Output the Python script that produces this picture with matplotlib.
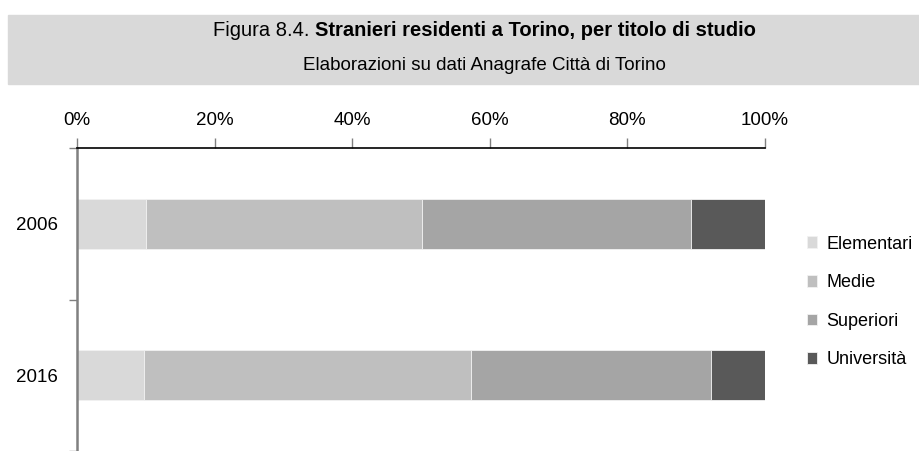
import numpy as np
import matplotlib
matplotlib.use("Agg")
import matplotlib.pyplot as plt
from matplotlib.patches import Rectangle

# Data (percentages)
years = ["2006", "2016"]
levels = ["Elementari", "Medie", "Superiori", "Università"]
elementari = [10.0, 9.7]
medie = [40.2, 47.5]
superiori = [39.1, 34.9]
universita = [10.7, 7.9]
colors = ["#d9d9d9", "#bfbfbf", "#a5a5a5", "#595959"]

plt.rcParams["font.family"] = ["Liberation Sans", "DejaVu Sans"]

W, H = 919, 451
fig = plt.figure(figsize=(W / 100, H / 100), dpi=100)

# Title band
fig.patches.append(Rectangle((8 / W, 1 - 84 / H), 1 - 8 / W, 69 / H,
                             transform=fig.transFigure, color="#d9d9d9", zorder=0))

# Title: regular prefix + bold remainder, centred together
renderer = fig.canvas.get_renderer()
cx, ty = 484 / W, 1 - 31 / H
t1 = fig.text(0, ty, "Figura 8.4. ", fontsize=14.5, va="center", ha="left")
t2 = fig.text(0, ty, "Stranieri residenti a Torino, per titolo di studio",
              fontsize=14.5, fontweight="bold", va="center", ha="left")
w1 = t1.get_window_extent(renderer).width / W
w2 = t2.get_window_extent(renderer).width / W
t1.set_x(cx - (w1 + w2) / 2)
t2.set_x(cx - (w1 + w2) / 2 + w1)
fig.text(cx, 1 - 65 / H, "Elaborazioni su dati Anagrafe Città di Torino",
         fontsize=13.5, va="center", ha="center")

ax = fig.add_axes([77 / W, 0.0, 688 / W, 1 - 148 / H])

series = [elementari, medie, superiori, universita]
y = np.arange(len(years))
left = np.zeros(len(years))
bars = []
for vals, lab, col in zip(series, levels, colors):
    b = ax.barh(y, vals, left=left, height=0.33, color=col, label=lab,
                edgecolor="#f2f2f2", linewidth=0.6)
    bars.append(b)
    left += np.array(vals)

ax.set_xlim(0, 100)
ax.set_ylim(1.5, -0.5)

# x axis on top
ax.xaxis.tick_top()
ax.set_xticks(np.arange(0, 101, 20))
ax.set_xticklabels([f"{v}%" for v in range(0, 101, 20)], fontsize=13.5)
ax.tick_params(axis="x", direction="out", length=7, width=1, color="#808080", pad=7)

# y axis: ticks between categories, labels at centres
ax.set_yticks([-0.5, 0.5, 1.5])
ax.set_yticklabels([])
ax.set_yticks(y, minor=True)
ax.set_yticklabels(years, minor=True, fontsize=13.5)
ax.tick_params(axis="y", which="major", length=6, width=1, color="#808080")
ax.tick_params(axis="y", which="minor", length=0, pad=14)

for s in ["right", "bottom"]:
    ax.spines[s].set_visible(False)
ax.spines["top"].set_color("black")
ax.spines["top"].set_linewidth(1.2)
ax.spines["left"].set_color("#808080")
ax.spines["left"].set_linewidth(1.8)

fig.legend(handles=bars, labels=levels, loc="center left",
           bbox_to_anchor=(794 / W, 1 - 302 / H), frameon=False, fontsize=13,
           handlelength=0.6, handleheight=0.6, handletextpad=0.5,
           labelspacing=1.2, borderpad=0.2)

fig.savefig("out.png", dpi=100)
